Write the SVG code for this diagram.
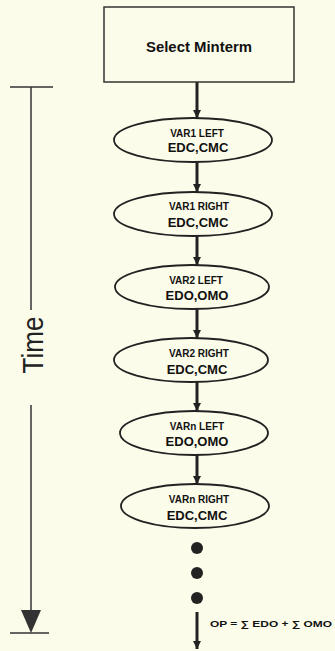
<svg xmlns="http://www.w3.org/2000/svg" width="335" height="651" viewBox="0 0 335 651">
  <defs>
    <style>
      .bg { fill: #fcfcea; }
      .node { fill: none; stroke: #222; stroke-width: 1.8; }
      .box { fill: none; stroke: #333; stroke-width: 1.5; }
      .conn { stroke: #222; stroke-width: 3; fill: none; }
      .axis { stroke: #333; stroke-width: 1.5; fill: none; }
      .t1 { font-family: "Liberation Sans", Arial, sans-serif; font-weight: bold; font-size: 10px; fill: #111; text-anchor: middle; }
      .t2 { font-family: "Liberation Sans", Arial, sans-serif; font-weight: bold; font-size: 13px; fill: #111; text-anchor: middle; }
      .title { font-family: "Liberation Sans", Arial, sans-serif; font-weight: bold; font-size: 14.5px; fill: #111; text-anchor: middle; }
      .time { font-family: "Liberation Sans", Arial, sans-serif; font-size: 29px; fill: #222; text-anchor: middle; }
      .formula { font-family: "Liberation Sans", "DejaVu Sans", sans-serif; font-weight: bold; font-size: 9px; fill: #111; }
      .dot { fill: #222; }
    </style>
    <marker id="arr" markerWidth="8" markerHeight="8" refX="8" refY="4" orient="auto" markerUnits="userSpaceOnUse">
      <path d="M0,0 L8,4 L0,8 Z" fill="#222"/>
    </marker>
  </defs>
  <rect class="bg" x="0" y="0" width="335" height="651"/>

  <g id="time-axis">
    <line class="axis" x1="10" y1="87" x2="53" y2="87"/>
    <line class="axis" x1="31" y1="87" x2="31" y2="310"/>
    <line class="axis" x1="31" y1="405" x2="31" y2="612"/>
    <path d="M21,610 L41,610 L31,633 Z" fill="#333"/>
    <line class="axis" x1="10" y1="633" x2="49" y2="633"/>
    <text class="time" transform="translate(43,345) rotate(-90)" textLength="57" lengthAdjust="spacingAndGlyphs">Time</text>
  </g>

  <g id="connectors">
    <line class="conn" x1="197" y1="82" x2="197" y2="118" marker-end="url(#arr)"/>
    <line class="conn" x1="197" y1="162" x2="197" y2="192" marker-end="url(#arr)"/>
    <line class="conn" x1="197" y1="236" x2="197" y2="265" marker-end="url(#arr)"/>
    <line class="conn" x1="197" y1="309" x2="197" y2="338" marker-end="url(#arr)"/>
    <line class="conn" x1="197" y1="382" x2="197" y2="411" marker-end="url(#arr)"/>
    <line class="conn" x1="197" y1="455" x2="197" y2="484" marker-end="url(#arr)"/>
    <line class="conn" x1="197" y1="612" x2="197" y2="649" marker-end="url(#arr)"/>
  </g>

  <g id="select-minterm">
    <rect class="box" x="104" y="7" width="190" height="75"/>
    <text class="title" x="199" y="52" textLength="106" lengthAdjust="spacingAndGlyphs">Select Minterm</text>
  </g>

  <g id="var1-left">
    <ellipse class="node" cx="193" cy="140" rx="79" ry="22"/>
    <text class="t1" x="197" y="137">VAR1 LEFT</text>
    <text class="t2" x="198" y="152">EDC,CMC</text>
  </g>
  <g id="var1-right">
    <ellipse class="node" cx="193" cy="214" rx="79" ry="22"/>
    <text class="t1" x="199" y="210">VAR1 RIGHT</text>
    <text class="t2" x="198" y="227">EDC,CMC</text>
  </g>
  <g id="var2-left">
    <ellipse class="node" cx="192" cy="287" rx="77" ry="22"/>
    <text class="t1" x="196" y="284">VAR2 LEFT</text>
    <text class="t2" x="197" y="300">EDO,OMO</text>
  </g>
  <g id="var2-right">
    <ellipse class="node" cx="191" cy="360" rx="77" ry="22"/>
    <text class="t1" x="199" y="357">VAR2 RIGHT</text>
    <text class="t2" x="197" y="374">EDC,CMC</text>
  </g>
  <g id="varn-left">
    <ellipse class="node" cx="194" cy="433" rx="74" ry="22"/>
    <text class="t1" x="197" y="430">VARn LEFT</text>
    <text class="t2" x="197" y="446">EDO,OMO</text>
  </g>
  <g id="varn-right">
    <ellipse class="node" cx="195" cy="506" rx="74" ry="22"/>
    <text class="t1" x="199" y="503">VARn RIGHT</text>
    <text class="t2" x="197" y="520">EDC,CMC</text>
  </g>

  <g id="ellipsis">
    <circle class="dot" cx="197" cy="548" r="6"/>
    <circle class="dot" cx="197" cy="573" r="6"/>
    <circle class="dot" cx="197" cy="598" r="6"/>
  </g>

  <g id="result">
    <text class="formula" x="210" y="627" textLength="122" lengthAdjust="spacingAndGlyphs">OP = ∑ EDO + ∑ OMO</text>
  </g>
</svg>
